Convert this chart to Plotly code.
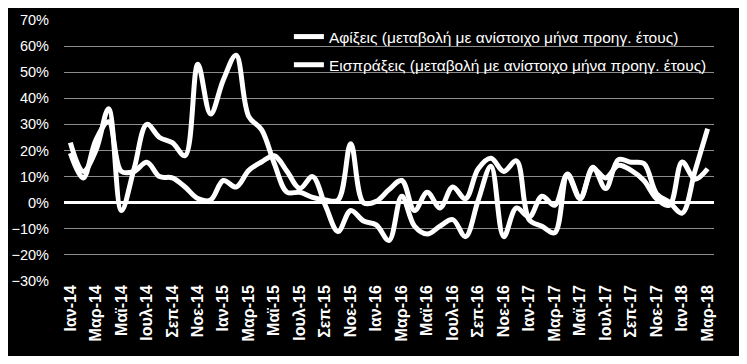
import plotly.graph_objects as go

month_names = ["Ιαν", "Φεβ", "Μαρ", "Απρ", "Μαϊ", "Ιουν", "Ιουλ", "Αυγ", "Σεπ", "Οκτ", "Νοε", "Δεκ"]
years = ["14", "15", "16", "17", "18"]
months = [f"{m}-{y}" for y in years for m in month_names][:51]

arrivals = [23, 12, 20, 36, -3, 13, 30, 25, 23, 18, 53, 34,
            47, 56.5, 33, 28, 15, 4, 4, 2, 1, 1, 22.6, 0,
            0.5, 5, 8.5, -3, 4, -2, 6, 1.5, 13, 17, 12, 16,
            -6.5, -9, -11.5, 10.5, 1.5, 13.6, 5.4, 16.5, 15.5, 15, 3.4, 0.2,
            -4, 12, 28.3]
receipts = [19, 9.5, 24, 31, 12, 12, 15.5, 10, 9.5, 6, 1.6, 1,
            8.5, 6, 12.4, 15.6, 18, 12, 5.5, 10, -1, -11, -3, -7,
            -8.5, -14.5, 2.5, -9, -12, -9, -6.5, -13, 1, 14, -13, -2,
            -5.5, 2.5, -1, 11, 2, 13, 9.5, 14.3, 12.4, 8.5, 1.5, -1,
            15.6, 9, 13]

names = ["Αφίξεις (μεταβολή με ανίστοιχο μήνα προηγ. έτους)",
         "Εισπράξεις (μεταβολή με ανίστοιχο μήνα προηγ. έτους)"]

fig = go.Figure()
for i, (nm, vals) in enumerate(zip(names, [arrivals, receipts])):
    fig.add_trace(go.Scatter(
        x=months, y=vals, name=nm, mode="lines",
        line=dict(color="white", width=5, shape="spline", smoothing=1.0),
        legendgroup=f"g{i}",
    ))

fig.update_layout(
    width=731, height=348,
    paper_bgcolor="black", plot_bgcolor="black",
    margin=dict(l=56, r=25, t=12, b=75, autoexpand=False),
    font=dict(family="Liberation Sans, Arial, sans-serif", color="white", size=14),
    showlegend=True,
    legend=dict(
        x=0.346, y=1.0, xanchor="left", yanchor="top",
        bgcolor="rgba(0,0,0,0)", font=dict(size=15.5, color="white"),
        traceorder="grouped", tracegroupgap=5, itemwidth=30,
    ),
    xaxis=dict(
        type="category", range=[-0.5, 50.5],
        tickmode="array", tickvals=months[::2], ticktext=months[::2],
        tickangle=-90, showgrid=False, zeroline=False, showline=False,
        tickfont=dict(family="Liberation Sans, Arial, sans-serif", size=16, color="white", weight="bold"),
        ticks="",
    ),
    yaxis=dict(
        range=[-30, 70], dtick=10, tick0=0, ticksuffix="%",
        showgrid=True, gridcolor="#8c8c8c", gridwidth=1,
        zeroline=True, zerolinecolor="white", zerolinewidth=2.5,
        tickfont=dict(size=14.5, color="white"),
        ticklabelstandoff=14, showline=False,
    ),
)

fig.write_html("out.html")
